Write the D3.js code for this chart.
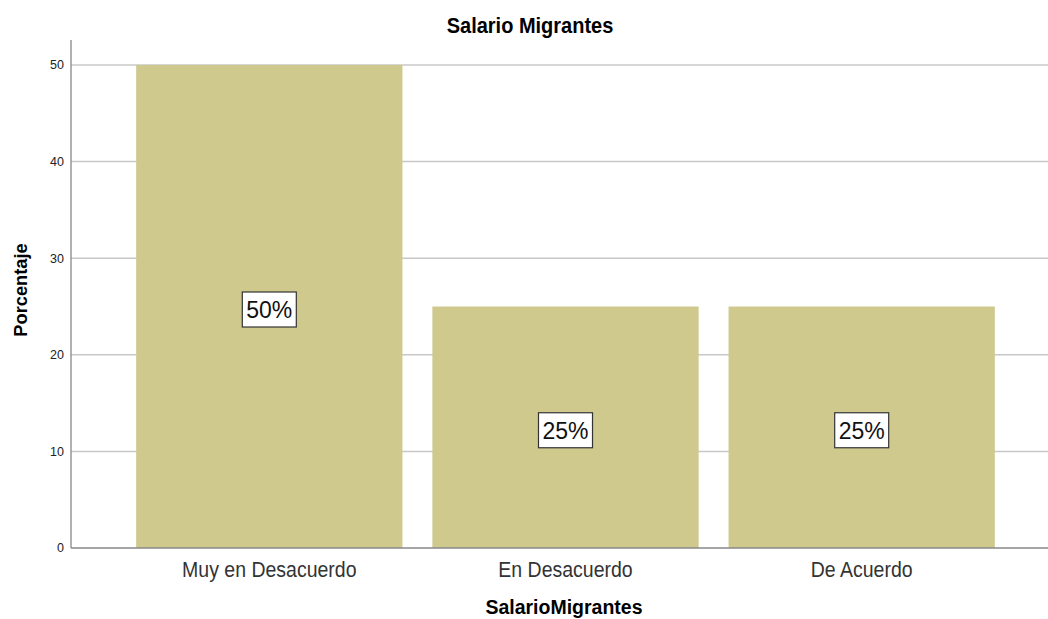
<!DOCTYPE html>
<html><head><meta charset="utf-8">
<script src="https://cdn.jsdelivr.net/npm/d3@7"></script>
<style>body{margin:0;background:#fff}svg{display:block}</style>
</head><body><svg id="c" width="1048" height="619"></svg>
<script>
const categories = ["Muy en Desacuerdo", "En Desacuerdo", "De Acuerdo"];
const values = [50, 25, 25];
const labels = ["50%", "25%", "25%"];
const yTicks = [0, 10, 20, 30, 40, 50];

const FONT = "Arial, 'Liberation Sans', sans-serif";
const svg = d3.select("#c");
const x0 = 71, yBottom = 548, yTop = 40;
const x = d3.scaleBand().domain(categories).range([x0, 1060]).paddingInner(0.101).paddingOuter(0.22);
const y = d3.scaleLinear().domain([0, 50]).range([yBottom, 65]);

// gridlines
svg.append("g").selectAll("line").data(yTicks.filter(d => d > 0)).join("line")
  .attr("x1", x0).attr("x2", 1048).attr("y1", d => y(d)).attr("y2", d => y(d))
  .attr("stroke", "#c8c8c8").attr("stroke-width", 1.5);

// bars
svg.append("g").selectAll("rect").data(values).join("rect")
  .attr("x", (d, i) => x(categories[i])).attr("width", x.bandwidth())
  .attr("y", d => y(d)).attr("height", d => yBottom - y(d))
  .attr("fill", "#cfc98e");

// axes lines
svg.append("line").attr("x1", x0).attr("x2", x0).attr("y1", yTop).attr("y2", yBottom)
  .attr("stroke", "#888").attr("stroke-width", 1.3);
svg.append("line").attr("x1", x0).attr("x2", 1048).attr("y1", yBottom).attr("y2", yBottom)
  .attr("stroke", "#888").attr("stroke-width", 1.3);

// y tick labels
svg.append("g").selectAll("text").data(yTicks).join("text")
  .attr("x", 64).attr("y", d => y(d)).attr("dy", "0.35em").attr("text-anchor", "end")
  .attr("font-family", FONT).attr("font-size", 12.5).attr("fill", "#222")
  .text(d => d);

// x tick labels
svg.append("g").selectAll("text").data(categories).join("text")
  .attr("transform", d => `translate(${x(d) + x.bandwidth() / 2},577) scale(1,1.12)`)
  .attr("text-anchor", "middle")
  .attr("font-family", FONT).attr("font-size", 19.5).attr("fill", "#333")
  .text(d => d);

// value labels
const lg = svg.append("g").selectAll("g").data(values).join("g")
  .attr("transform", (d, i) => `translate(${x(categories[i]) + x.bandwidth() / 2},${(y(d) + yBottom) / 2 + 3})`);
lg.append("rect").attr("x", -27).attr("y", -17.5).attr("width", 54).attr("height", 35)
  .attr("fill", "#fff").attr("stroke", "#333").attr("stroke-width", 1.2);
lg.append("text").data(labels).attr("text-anchor", "middle").attr("dy", "0.36em")
  .attr("font-family", FONT).attr("font-size", 23).attr("fill", "#111")
  .text(d => d);

// titles
svg.append("text").attr("transform", "translate(530,33) scale(1,1.12)").attr("text-anchor", "middle")
  .attr("font-family", FONT).attr("font-size", 20).attr("font-weight", "bold")
  .text("Salario Migrantes");
svg.append("text").attr("x", 564).attr("y", 614).attr("text-anchor", "middle")
  .attr("font-family", FONT).attr("font-size", 19.5).attr("font-weight", "bold")
  .text("SalarioMigrantes");
svg.append("text").attr("transform", "translate(27,290) rotate(-90)").attr("text-anchor", "middle")
  .attr("font-family", FONT).attr("font-size", 18.3).attr("font-weight", "bold")
  .text("Porcentaje");
</script></body></html>
